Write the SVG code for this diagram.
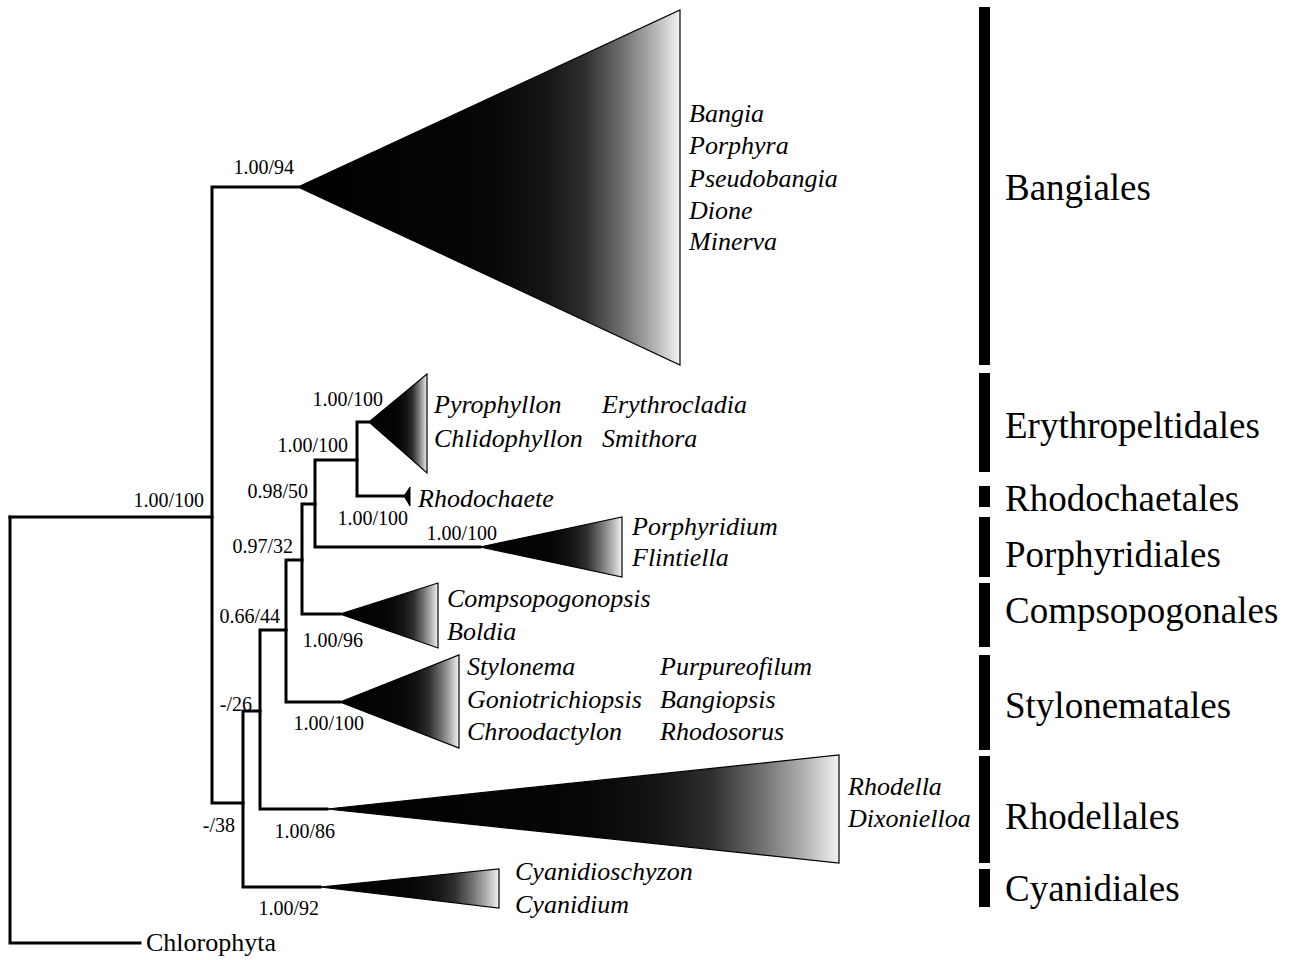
<svg xmlns="http://www.w3.org/2000/svg" width="1294" height="960" viewBox="0 0 1294 960">
<defs>
<linearGradient id="fade" x1="0" y1="0" x2="1" y2="0">
<stop offset="0" stop-color="#000"/>
<stop offset="0.5" stop-color="#060606"/>
<stop offset="0.65" stop-color="#151515"/>
<stop offset="0.75" stop-color="#2e2e2e"/>
<stop offset="0.85" stop-color="#707070"/>
<stop offset="0.93" stop-color="#b0b0b0"/>
<stop offset="1" stop-color="#f2f2f2"/>
</linearGradient>
<style>
.br{fill:none;stroke:#000;stroke-width:3;stroke-linejoin:miter;stroke-linecap:square}
.tri{fill:url(#fade);stroke:#000;stroke-width:1.2}
.sup{font-family:"Liberation Serif","Times New Roman",serif;font-size:20px;fill:#000;text-anchor:end}
.tax{font-family:"Liberation Serif","Times New Roman",serif;font-size:26px;font-style:italic;fill:#000}
.ord{font-family:"Liberation Serif","Times New Roman",serif;font-size:37px;fill:#000}
.bar{fill:#000}
</style>
</defs>
<rect width="1294" height="960" fill="#fff"/>
<g id="connectors">
<path class="br" d="M10,517 H212"/>
<path class="br" d="M140,943 H10 V517"/>
<path class="br" d="M298,187 H212 V803 H243"/>
<path class="br" d="M320,887 H243 V711 H260"/>
<path class="br" d="M327,809 H260 V630 H286"/>
<path class="br" d="M340,702 H286 V560 H302"/>
<path class="br" d="M340,614 H302 V504 H315"/>
<path class="br" d="M480,547 H315 V460 H357"/>
<path class="br" d="M369,422 H357 V496 H404"/>
</g>
<g id="support">
<text class="sup" x="204" y="507">1.00/100</text>
<text class="sup" x="294" y="174">1.00/94</text>
<text class="sup" x="308" y="498">0.98/50</text>
<text class="sup" x="383" y="406">1.00/100</text>
<text class="sup" x="348" y="452">1.00/100</text>
<text class="sup" x="408" y="525">1.00/100</text>
<text class="sup" x="497" y="540">1.00/100</text>
<text class="sup" x="293" y="553">0.97/32</text>
<text class="sup" x="280" y="623">0.66/44</text>
<text class="sup" x="363" y="647">1.00/96</text>
<text class="sup" x="252" y="711">-/26</text>
<text class="sup" x="364" y="730">1.00/100</text>
<text class="sup" x="235" y="832">-/38</text>
<text class="sup" x="335" y="838">1.00/86</text>
<text class="sup" x="319" y="915">1.00/92</text>
</g>
<g id="chlorophyta">
<text x="146" y="951" font-family="Liberation Serif, Times New Roman, serif" font-size="26">Chlorophyta</text>
</g>
<g id="bangiales">
<polygon class="tri" points="298,187 680,10 680,365"/>
<text class="tax" x="689" y="122">Bangia</text>
<text class="tax" x="689" y="154">Porphyra</text>
<text class="tax" x="689" y="187">Pseudobangia</text>
<text class="tax" x="689" y="219">Dione</text>
<text class="tax" x="689" y="250">Minerva</text>
</g>
<g id="erythropeltidales">
<polygon class="tri" points="369,422 427,374 427,473"/>
<text class="tax" x="434" y="413">Pyrophyllon</text>
<text class="tax" x="434" y="447">Chlidophyllon</text>
<text class="tax" x="602" y="413">Erythrocladia</text>
<text class="tax" x="602" y="447">Smithora</text>
</g>
<g id="rhodochaete">
<polygon points="404,496 410,487 410,506" fill="#000" stroke="#000" stroke-width="1"/>
<text class="tax" x="418" y="507">Rhodochaete</text>
</g>
<g id="porphyridiales">
<polygon class="tri" points="480,547 622,517 622,577"/>
<text class="tax" x="632" y="535">Porphyridium</text>
<text class="tax" x="632" y="566">Flintiella</text>
</g>
<g id="compsopogonales">
<polygon class="tri" points="340,614 438,583 438,648"/>
<text class="tax" x="447" y="607">Compsopogonopsis</text>
<text class="tax" x="447" y="640">Boldia</text>
</g>
<g id="stylonematales">
<polygon class="tri" points="340,702 459,655 459,748"/>
<text class="tax" x="467" y="675">Stylonema</text>
<text class="tax" x="467" y="708">Goniotrichiopsis</text>
<text class="tax" x="467" y="740">Chroodactylon</text>
<text class="tax" x="660" y="675">Purpureofilum</text>
<text class="tax" x="660" y="708">Bangiopsis</text>
<text class="tax" x="660" y="740">Rhodosorus</text>
</g>
<g id="rhodellales">
<polygon class="tri" points="327,809 839,755 839,863"/>
<text class="tax" x="848" y="795">Rhodella</text>
<text class="tax" x="848" y="827">Dixonielloa</text>
</g>
<g id="cyanidiales">
<polygon class="tri" points="320,887 499,869 499,908"/>
<text class="tax" x="515" y="880">Cyanidioschyzon</text>
<text class="tax" x="515" y="913">Cyanidium</text>
</g>
<g id="orders">
<rect class="bar" x="979" y="7" width="11" height="358"/>
<text class="ord" x="1005" y="200">Bangiales</text>
<rect class="bar" x="979" y="373" width="11" height="99"/>
<text class="ord" x="1005" y="438">Erythropeltidales</text>
<rect class="bar" x="979" y="486" width="11" height="21"/>
<text class="ord" x="1005" y="511">Rhodochaetales</text>
<rect class="bar" x="979" y="517" width="11" height="60"/>
<text class="ord" x="1005" y="567">Porphyridiales</text>
<rect class="bar" x="979" y="583" width="11" height="64"/>
<text class="ord" x="1005" y="623">Compsopogonales</text>
<rect class="bar" x="979" y="655" width="11" height="95"/>
<text class="ord" x="1005" y="718">Stylonematales</text>
<rect class="bar" x="979" y="756" width="11" height="107"/>
<text class="ord" x="1005" y="829">Rhodellales</text>
<rect class="bar" x="979" y="869" width="11" height="38"/>
<text class="ord" x="1005" y="901">Cyanidiales</text>
</g>
</svg>
